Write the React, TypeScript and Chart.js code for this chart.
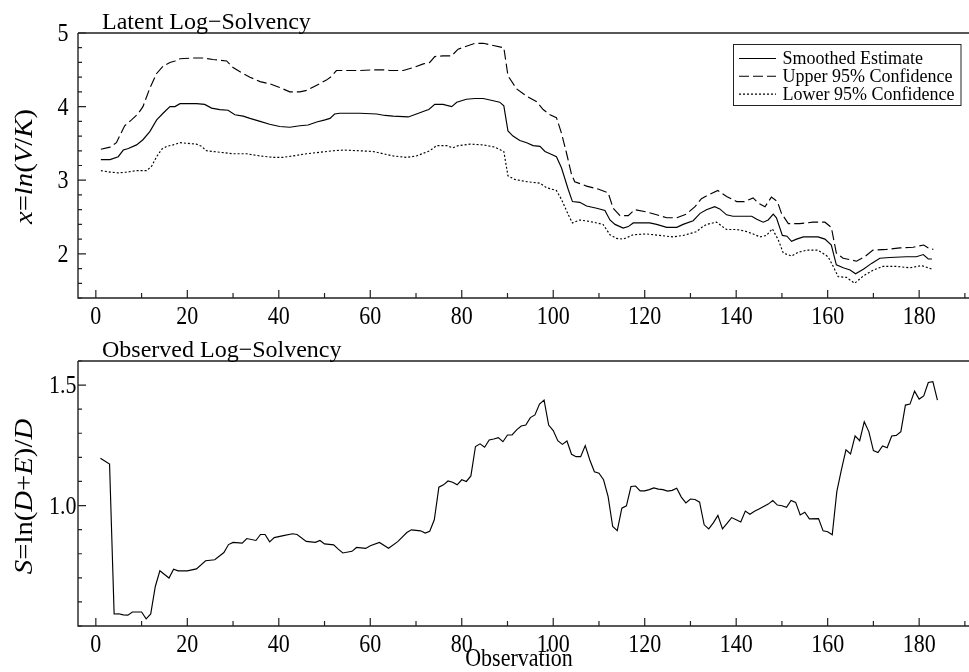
import React, { useEffect, useRef } from "react";
import { Chart, registerables } from "chart.js";

Chart.register(...registerables);

const FONT = '"Liberation Serif", "Times New Roman", Times, serif';

// Observation axis
const xTicks = [0, 20, 40, 60, 80, 100, 120, 140, 160, 180];
const X_MIN = -3.9;
const X_MAX = 190.9;

// Latent log-solvency: smoothed estimate and 95% band
const smoothX = [1.1, 3.1, 4.9, 6, 7.1, 8.9, 10.3, 11.8, 13.3, 14.7, 16.2, 17.3, 18.4, 19.8, 22, 23.8, 25.3, 27.1, 28.9, 30.4, 32.2, 33.7, 35.9, 38, 40.2, 42.4, 44.6, 46.4, 48.3, 50.1, 51.2, 52.2, 53.3, 57.7, 61.4, 63.2, 65, 68.3, 70.1, 72.3, 72.8, 74.1, 75.9, 77.8, 78.9, 81, 82.9, 84.7, 86.9, 88.3, 89.2, 90.1, 91.2, 92.7, 94.2, 95.6, 97.1, 98.2, 99.3, 100.7, 101.8, 103.3, 104.2, 105.8, 107.3, 109.5, 111.3, 112.4, 113.5, 115.3, 116.4, 117.5, 121.1, 122.6, 124.8, 127, 128.4, 130.6, 132.1, 133.5, 135.3, 136.4, 137.9, 139.3, 143.4, 144.5, 145.9, 147, 148.1, 148.8, 150.1, 151.1, 152.1, 153.2, 154.7, 157.9, 159.4, 160.8, 161.9, 163.4, 164.9, 166.1, 167.8, 169.6, 171.4, 173.6, 177.2, 179.4, 180.9, 182, 182.8];
const smoothY = [3.28, 3.28, 3.32, 3.41, 3.43, 3.48, 3.55, 3.66, 3.82, 3.91, 4.0, 4.0, 4.04, 4.04, 4.04, 4.03, 3.98, 3.96, 3.95, 3.89, 3.87, 3.84, 3.8, 3.76, 3.73, 3.72, 3.74, 3.75, 3.79, 3.82, 3.84, 3.9, 3.91, 3.91, 3.9, 3.88, 3.87, 3.86, 3.9, 3.95, 3.96, 4.03, 4.03, 4.0, 4.06, 4.1, 4.11, 4.11, 4.08, 4.06, 4.01, 3.67, 3.6, 3.54, 3.51, 3.47, 3.46, 3.39, 3.36, 3.32, 3.17, 2.87, 2.71, 2.7, 2.65, 2.62, 2.59, 2.46, 2.4, 2.35, 2.37, 2.42, 2.42, 2.4, 2.36, 2.36, 2.4, 2.45, 2.55, 2.6, 2.64, 2.61, 2.53, 2.51, 2.51, 2.47, 2.43, 2.46, 2.54, 2.49, 2.25, 2.24, 2.17, 2.2, 2.23, 2.23, 2.2, 2.12, 1.85, 1.81, 1.78, 1.73, 1.79, 1.87, 1.94, 1.95, 1.96, 1.96, 1.99, 1.93, 1.93];

const upperX = [1.1, 3.1, 4.5, 5.2, 6.3, 7.8, 9.2, 10.3, 11.8, 13.3, 14.7, 16.2, 17.3, 18.4, 21.3, 23.5, 25.6, 28.6, 30, 31.9, 33.7, 35.9, 38, 40.2, 42.4, 44.6, 46.1, 48.3, 50.4, 51.5, 52.6, 54.1, 57.7, 60.6, 63.2, 64.3, 67.2, 69.4, 71.6, 73, 74.1, 75.9, 77.8, 79.2, 81, 82.9, 84.7, 86.9, 89.2, 90.1, 92, 94.2, 96.3, 97.8, 99.3, 100.7, 101.8, 102.9, 104, 104.7, 107.3, 109.8, 112, 113.1, 114.6, 116.4, 117.8, 120.4, 122.6, 124.8, 127, 129.1, 131, 132.4, 133.9, 136, 137.9, 140.1, 141.9, 143.7, 144.8, 146.3, 147.7, 149, 149.9, 151.4, 153.9, 156.8, 159.4, 160.8, 161.9, 163.4, 164.9, 166.3, 168.1, 169.9, 172.9, 175.8, 178.7, 181, 182, 183.1];
const upperY = [3.42, 3.45, 3.51, 3.6, 3.74, 3.82, 3.9, 4.0, 4.25, 4.45, 4.55, 4.6, 4.62, 4.65, 4.66, 4.66, 4.64, 4.62, 4.53, 4.46, 4.4, 4.34, 4.31, 4.26, 4.2, 4.2, 4.22, 4.29, 4.36, 4.41, 4.49, 4.49, 4.49, 4.5, 4.5, 4.49, 4.49, 4.53, 4.58, 4.6, 4.68, 4.69, 4.69, 4.78, 4.82, 4.86, 4.86, 4.83, 4.8, 4.42, 4.24, 4.14, 4.07, 3.96, 3.89, 3.85, 3.64, 3.37, 3.08, 2.98, 2.92, 2.88, 2.83, 2.62, 2.52, 2.52, 2.6, 2.57, 2.53, 2.49, 2.49, 2.54, 2.64, 2.75, 2.8, 2.86, 2.78, 2.71, 2.71, 2.76, 2.69, 2.64, 2.77, 2.71, 2.55, 2.41, 2.41, 2.43, 2.43, 2.36, 2.01, 1.94, 1.92, 1.9, 1.96, 2.05, 2.06, 2.08, 2.09, 2.12, 2.08, 2.06];

const lowerX = [1.1, 3.1, 4.9, 6.7, 8.9, 11.1, 12.2, 13.3, 14.4, 15.5, 16.9, 18.4, 20.2, 22, 23.1, 24.2, 27.1, 30, 32.9, 35.9, 38.8, 40.9, 43.1, 46.1, 49, 51.9, 54.1, 57.7, 60.6, 62.1, 65, 67.9, 70.1, 73, 74.5, 76.7, 78, 79.2, 81.8, 84.7, 87.2, 89.2, 90.1, 91.6, 94.2, 97.1, 98.5, 100.7, 101.8, 103.3, 104.2, 105.8, 108, 110.9, 112.4, 113.8, 115.3, 117.5, 120.4, 123.3, 126.2, 128.4, 131.3, 132.5, 133.5, 135.7, 137.9, 140.1, 141.9, 143.7, 145.2, 146.6, 147.9, 149.2, 150.3, 152.1, 153.5, 155.4, 157.9, 160.1, 161.2, 162.3, 164.1, 165.9, 167.8, 170, 172.1, 175, 178, 180.5, 182, 182.8];
const lowerY = [3.13, 3.11, 3.1, 3.11, 3.13, 3.13, 3.19, 3.32, 3.42, 3.46, 3.48, 3.51, 3.5, 3.49, 3.46, 3.4, 3.38, 3.36, 3.36, 3.33, 3.31, 3.31, 3.33, 3.36, 3.38, 3.4, 3.41, 3.4, 3.39, 3.37, 3.33, 3.31, 3.33, 3.4, 3.47, 3.47, 3.44, 3.47, 3.49, 3.48, 3.45, 3.39, 3.06, 3.01, 2.98, 2.96, 2.9, 2.86, 2.74, 2.53, 2.42, 2.46, 2.44, 2.4, 2.26, 2.21, 2.2, 2.26, 2.27, 2.25, 2.23, 2.25, 2.3, 2.36, 2.4, 2.43, 2.33, 2.33, 2.31, 2.27, 2.23, 2.25, 2.34, 2.19, 2.01, 1.97, 2.02, 2.05, 2.05, 1.96, 1.83, 1.69, 1.68, 1.6, 1.7, 1.78, 1.83, 1.83, 1.81, 1.84, 1.81, 1.79];

const latentYTicks = [2, 3, 4, 5];

// Observed log-solvency S = ln(D+E)/D
const obsX = [1, 3, 4, 5, 6, 7, 8, 10, 11, 12, 13, 14, 16, 17, 18, 20, 22, 24, 26, 28, 29, 30, 32, 33, 35, 36, 37, 38, 39, 41, 43, 44, 46, 48, 49, 50, 52, 53, 54, 56, 57, 59, 60, 62, 64, 66, 68, 69, 71, 72, 73, 74, 75, 76, 77, 78, 79, 80, 81, 82, 83, 84, 85, 86, 87, 88, 89, 90, 91, 92, 93, 94, 95, 96, 97, 98, 99, 100, 101, 102, 103, 104, 105, 106, 107, 108, 109, 110, 111, 112, 113, 114, 115, 116, 117, 118, 119, 120, 121, 122, 123, 124, 125, 126, 127, 128, 129, 130, 131, 132, 133, 134, 135, 136, 137, 138, 139, 140, 141, 142, 143, 144, 145, 146, 147, 148, 149, 150, 151, 152, 153, 154, 155, 156, 158, 159, 160, 161, 162, 163, 164, 165, 166, 167, 168, 169, 170, 171, 172, 173, 174, 175, 176, 177, 178, 179, 180, 181, 182, 183, 184];
const obsY = [1.196, 1.172, 0.55, 0.551, 0.546, 0.545, 0.558, 0.558, 0.53, 0.55, 0.664, 0.729, 0.699, 0.736, 0.729, 0.729, 0.737, 0.771, 0.775, 0.805, 0.838, 0.847, 0.844, 0.863, 0.855, 0.88, 0.88, 0.849, 0.867, 0.875, 0.883, 0.88, 0.851, 0.847, 0.855, 0.841, 0.837, 0.819, 0.803, 0.81, 0.826, 0.822, 0.833, 0.847, 0.823, 0.85, 0.888, 0.899, 0.895, 0.886, 0.893, 0.941, 1.076, 1.086, 1.102, 1.097, 1.086, 1.107, 1.1, 1.123, 1.245, 1.256, 1.242, 1.272, 1.276, 1.282, 1.265, 1.293, 1.293, 1.314, 1.33, 1.334, 1.365, 1.376, 1.421, 1.438, 1.334, 1.311, 1.269, 1.254, 1.268, 1.213, 1.203, 1.203, 1.249, 1.189, 1.14, 1.134, 1.107, 1.037, 0.913, 0.896, 0.989, 0.999, 1.079, 1.081, 1.061, 1.061, 1.066, 1.073, 1.068, 1.066, 1.06, 1.063, 1.072, 1.035, 1.011, 1.027, 1.025, 1.014, 0.92, 0.903, 0.928, 0.959, 0.903, 0.926, 0.95, 0.941, 0.932, 0.977, 0.964, 0.976, 0.986, 0.996, 1.006, 1.021, 1.002, 0.999, 0.993, 1.021, 1.013, 0.961, 0.972, 0.945, 0.946, 0.895, 0.891, 0.879, 1.058, 1.148, 1.231, 1.214, 1.289, 1.269, 1.348, 1.307, 1.228, 1.22, 1.247, 1.24, 1.289, 1.291, 1.307, 1.417, 1.421, 1.475, 1.442, 1.455, 1.511, 1.514, 1.438];

const observedYTicks = [1.0, 1.5];

const pts = (xs: number[], ys: number[]) => xs.map((x, i) => ({ x, y: ys[i] }));

type Part = [string, boolean];

// text drawn with an extra vertical stretch (the axis lettering is tall and narrow)
function tallText(ctx: CanvasRenderingContext2D, text: string, x: number, y: number, size: number, align: CanvasTextAlign, sy: number) {
  ctx.save();
  ctx.translate(x, y);
  ctx.scale(1, sy);
  ctx.font = `${size}px ${FONT}`;
  ctx.textAlign = align;
  ctx.textBaseline = "alphabetic";
  ctx.fillStyle = "#000";
  ctx.fillText(text, 0, 0);
  ctx.restore();
}

// rotated axis title made of upright and italic runs
function drawRich(ctx: CanvasRenderingContext2D, parts: Part[], baseX: number, cy: number, size: number, stretch: number) {
  ctx.save();
  ctx.translate(baseX, cy);
  ctx.rotate(-Math.PI / 2);
  ctx.scale(stretch, 1);
  ctx.fillStyle = "#000";
  ctx.textBaseline = "alphabetic";
  ctx.textAlign = "left";
  const fontOf = (it: boolean) => `${it ? "italic " : ""}${size}px ${FONT}`;
  let total = 0;
  for (const [t, it] of parts) {
    ctx.font = fontOf(it);
    total += ctx.measureText(t).width;
  }
  let x = -total / 2;
  for (const [t, it] of parts) {
    ctx.font = fontOf(it);
    ctx.fillText(t, x, 0);
    x += ctx.measureText(t).width;
  }
  ctx.restore();
}

interface DecorOpts {
  title: string;
  titleY: number;
  yMinorStep: number;
  yFmt: (v: number) => string;
  yLabelRight: number;
  yTitle: Part[];
  yTitleShift: number;
  legend?: boolean;
  xTitle?: { text: string; x: number; y: number };
}

function decorPlugin(o: DecorOpts) {
  return {
    id: "decor",
    afterDraw(chart: any) {
      const { ctx, chartArea: a, scales } = chart;
      const xs = scales.x;
      const ys = scales.y;
      ctx.save();
      // frame: top, left and bottom edges
      ctx.strokeStyle = "#222";
      ctx.lineWidth = 1.4;
      ctx.beginPath();
      ctx.moveTo(a.left, a.top);
      ctx.lineTo(a.right, a.top);
      ctx.moveTo(a.left, a.top);
      ctx.lineTo(a.left, a.bottom);
      ctx.lineTo(a.right, a.bottom);
      ctx.stroke();

      // inward tick marks, major and minor
      ctx.lineWidth = 1.2;
      ctx.beginPath();
      const isMajor = (scale: any, v: number) => scale.ticks.some((t: any) => Math.abs(t.value - v) < 1e-6);
      const xStep = 10;
      for (let k = Math.ceil(xs.min / xStep); k * xStep <= xs.max; k++) {
        const v = k * xStep;
        const px = xs.getPixelForValue(v);
        ctx.moveTo(px, a.bottom);
        ctx.lineTo(px, a.bottom - (isMajor(xs, v) ? 8 : 5));
      }
      const ySt = o.yMinorStep;
      for (let k = Math.ceil(ys.min / ySt - 1e-6); k * ySt <= ys.max + 1e-6; k++) {
        const v = k * ySt;
        const py = ys.getPixelForValue(v);
        ctx.moveTo(a.left, py);
        ctx.lineTo(a.left + (isMajor(ys, v) ? 8 : 4), py);
      }
      ctx.stroke();

      // tick labels
      for (const t of xs.ticks) {
        tallText(ctx, String(t.value), xs.getPixelForValue(t.value), a.bottom + 26, 22, "center", 1.12);
      }
      for (const t of ys.ticks) {
        tallText(ctx, o.yFmt(t.value), o.yLabelRight, ys.getPixelForValue(t.value) + 8.2, 22, "right", 1.12);
      }

      // panel title
      ctx.fillStyle = "#000";
      ctx.font = `24px ${FONT}`;
      ctx.textAlign = "left";
      ctx.textBaseline = "alphabetic";
      ctx.fillText(o.title, 102, o.titleY);

      // y axis title
      drawRich(ctx, o.yTitle, 32, (a.top + a.bottom) / 2 + o.yTitleShift, 25, 1.15);

      if (o.xTitle) {
        tallText(ctx, o.xTitle.text, o.xTitle.x, o.xTitle.y, 22, "center", 1.1);
      }

      if (o.legend) {
        const bx = 733.5, by = 44.5, bw = 227.5, bh = 61;
        ctx.fillStyle = "#fff";
        ctx.fillRect(bx, by, bw, bh);
        ctx.strokeStyle = "#222";
        ctx.lineWidth = 1;
        ctx.strokeRect(bx, by, bw, bh);
        ctx.font = `18px ${FONT}`;
        ctx.textAlign = "left";
        chart.data.datasets.forEach((ds: any, i: number) => {
          const ly = 58.5 + i * 17.8;
          ctx.strokeStyle = "#000";
          ctx.lineWidth = 1.1;
          ctx.setLineDash(ds.borderDash || []);
          ctx.beginPath();
          ctx.moveTo(739, ly);
          ctx.lineTo(776, ly);
          ctx.stroke();
          ctx.setLineDash([]);
          ctx.fillStyle = "#000";
          ctx.fillText(ds.label, 782.5, ly + 5.5);
        });
      }
      ctx.restore();
    },
  };
}

function xScale(height: number) {
  return {
    type: "linear" as const,
    min: X_MIN,
    max: X_MAX,
    afterBuildTicks: (s: any) => {
      s.ticks = xTicks.map((v) => ({ value: v }));
    },
    afterFit: (s: any) => {
      s.height = height;
    },
    grid: { display: false, drawTicks: false },
    border: { display: false },
    ticks: { display: false },
  };
}

function yScale(min: number, max: number, tickVals: number[]) {
  return {
    type: "linear" as const,
    min,
    max,
    afterBuildTicks: (s: any) => {
      s.ticks = tickVals.map((v) => ({ value: v }));
    },
    afterFit: (s: any) => {
      s.width = 78;
    },
    grid: { display: false, drawTicks: false },
    border: { display: false },
    ticks: { display: false },
  };
}

const lineDs = (label: string, data: any[], dash: number[]) => ({
  label,
  data,
  borderColor: "#000",
  borderWidth: 1.15,
  borderDash: dash,
  pointRadius: 0,
  tension: 0,
  fill: false,
});

export default function App() {
  const topRef = useRef<HTMLCanvasElement>(null);
  const botRef = useRef<HTMLCanvasElement>(null);

  useEffect(() => {
    document.body.style.margin = "0";
    const common = {
      responsive: false,
      animation: false as const,
      events: [] as any[],
      plugins: { legend: { display: false }, title: { display: false }, tooltip: { enabled: false } },
    };

    const top = new Chart(topRef.current!, {
      type: "line",
      data: {
        datasets: [
          lineDs("Smoothed Estimate", pts(smoothX, smoothY), []),
          lineDs("Upper 95% Confidence", pts(upperX, upperY), [10, 4]),
          lineDs("Lower 95% Confidence", pts(lowerX, lowerY), [2, 2]),
        ],
      },
      options: {
        ...common,
        layout: { padding: { top: 33, left: 0, right: 0, bottom: 0 } },
        scales: {
          x: xScale(34),
          y: yScale(1.4, 5, latentYTicks),
        },
      },
      plugins: [
        decorPlugin({
          title: "Latent Log\u2212Solvency",
          titleY: 29,
          yMinorStep: 0.2,
          yFmt: (v) => String(v),
          yLabelRight: 68.5,
          yTitle: [["x", true], ["=", false], ["ln", true], ["(", false], ["V", true], ["/", false], ["K", true], [")", false]],
          yTitleShift: 1,
          legend: true,
        }),
      ],
    } as any);

    const bottom = new Chart(botRef.current!, {
      type: "line",
      data: {
        datasets: [lineDs("Observed", pts(obsX, obsY), [])],
      },
      options: {
        ...common,
        layout: { padding: { top: 29, left: 0, right: 0, bottom: 0 } },
        scales: {
          x: xScale(46),
          y: yScale(0.5, 1.6, observedYTicks),
        },
      },
      plugins: [
        decorPlugin({
          title: "Observed Log\u2212Solvency",
          titleY: 25,
          yMinorStep: 0.1,
          yFmt: (v) => v.toFixed(1),
          yLabelRight: 76.5,
          yTitle: [["S", true], ["=ln(", false], ["D", true], ["+", false], ["E", true], [")/", false], ["D", true]],
          yTitleShift: 3,
          xTitle: { text: "Observation", x: 519, y: 334 },
        }),
      ],
    } as any);

    return () => {
      top.destroy();
      bottom.destroy();
    };
  }, []);

  return (
    <div style={{ position: "absolute", left: 0, top: 0, width: 969, height: 672, background: "#fff", overflow: "hidden" }}>
      <canvas ref={topRef} width={969} height={332} style={{ position: "absolute", left: 0, top: 0 }} />
      <canvas ref={botRef} width={969} height={340} style={{ position: "absolute", left: 0, top: 332 }} />
    </div>
  );
}
